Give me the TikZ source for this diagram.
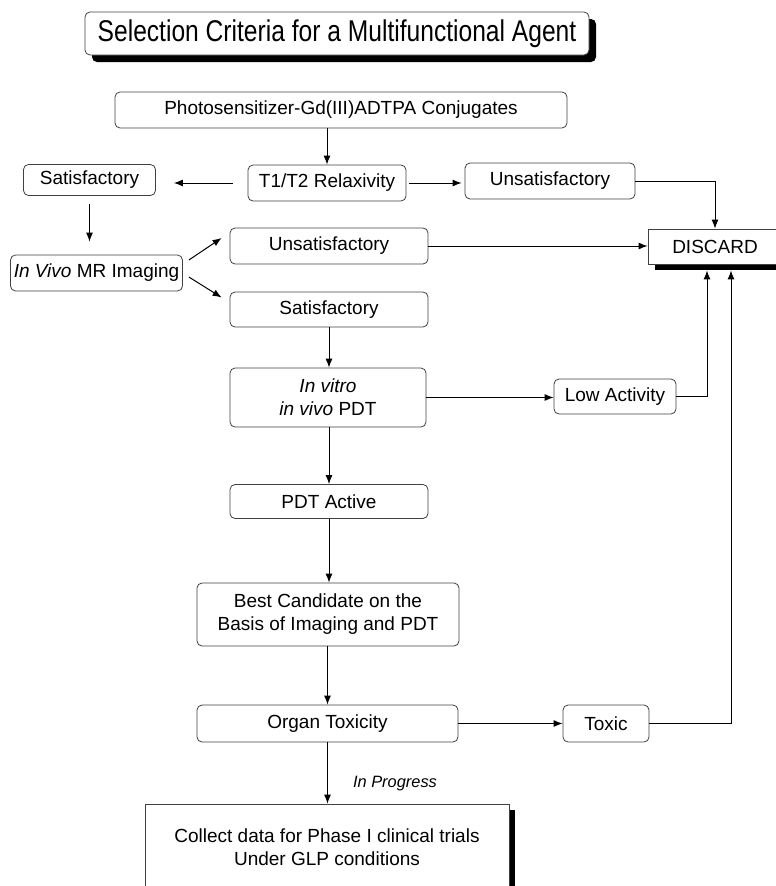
\documentclass[tikz,border=0pt]{standalone}
\usepackage{fontspec}
\setmainfont{Liberation Sans}
\newfontfamily\titlefont{Liberation Sans}[FakeStretch=0.82]
\usepackage{tikz}
\usetikzlibrary{arrows.meta,calc,positioning,shadows}
\tikzstyle{stage} = [draw=black!75, line width=0.8pt, fill=white,
    rectangle, rounded corners=5pt, inner sep=0pt, align=center,
    font=\fontsize{19}{23}\selectfont]
\tikzstyle{heading} = [stage, font=\titlefont\fontsize{30}{36}\selectfont,
    drop shadow={shadow xshift=7pt, shadow yshift=-7pt, fill=black, opacity=1}]
\tikzstyle{endbox} = [stage, rounded corners=0pt]
\tikzstyle{flow} = [-{Latex[length=9pt,width=7pt]}, line width=1pt]
\tikzstyle{note} = [font=\fontsize{16.4}{20}\selectfont\itshape]

\begin{document}
\begin{tikzpicture}[x=1pt,y=-1pt]
\useasboundingbox (0,0) rectangle (776,886);
\node [heading, minimum width=504pt, minimum height=43pt] (title) at (337,33.5)
    {Selection Criteria for a Multifunctional Agent};
\node [stage, minimum width=452pt, minimum height=36pt] (conj) at (341,110)
    {Photosensitizer-Gd(III)ADTPA Conjugates};
\node [stage, minimum width=158pt, minimum height=36pt] (relax) at (327,183)
    {T1/T2 Relaxivity};
\node [stage, minimum width=132pt, minimum height=31pt] (satl) at (89.5,180)
    {Satisfactory};
\node [stage, minimum width=170pt, minimum height=36pt] (unsatt) at (550,181)
    {Unsatisfactory};
\node [endbox, minimum width=134pt, minimum height=35pt,
    drop shadow={shadow xshift=7pt, shadow yshift=-6pt, fill=black, opacity=1}]
    (discard) at (715,246.5) {DISCARD};
\node [stage, minimum width=172pt, minimum height=36pt] (mri) at (96.5,273)
    {\textit{In Vivo} MR Imaging};
\node [stage, minimum width=198pt, minimum height=36pt] (unsatm) at (329,246)
    {Unsatisfactory};
\node [stage, minimum width=198pt, minimum height=35pt] (satm) at (329,309.5)
    {Satisfactory};
\node [stage, minimum width=196pt, minimum height=59pt] (pdt) at (328,397.5)
    {\textit{In vitro}\\\textit{in vivo} PDT};
\node [stage, minimum width=122pt, minimum height=35pt] (lowact) at (615,396.5)
    {Low Activity};
\node [stage, minimum width=198pt, minimum height=34pt] (active) at (329,501.5)
    {PDT Active};
\node [stage, minimum width=262pt, minimum height=63pt] (best) at (328,614.5)
    {Best Candidate on the\\Basis of Imaging and PDT};
\node [stage, minimum width=261pt, minimum height=37pt] (organ) at (327.5,723.5)
    {Organ Toxicity};
\node [stage, minimum width=86pt, minimum height=37pt] (toxic) at (606,723.5)
    {Toxic};
\node [endbox, minimum width=364pt, minimum height=86pt,
    drop shadow={shadow xshift=6pt, shadow yshift=-6pt, fill=black, opacity=1}]
    (collect) at (327,847) {Collect data for Phase I clinical trials\\Under GLP conditions};
\node [note] (progress) at (395,784) {In Progress};

% relaxivity screen
\draw [flow] (conj.south -| relax.north) -- (relax.north);
\draw [flow, shorten <=15pt, shorten >=18pt] (relax.west) -- (satl.east |- relax.west);
\draw [flow, shorten <=3pt, shorten >=3pt] (relax.east) -- (unsatt.west |- relax.east);
\draw [flow] (unsatt.east) -| (discard.north);
% imaging
\draw [flow, shorten <=8pt, shorten >=13pt] (satl.south) -- (satl.south |- mri.north);
\draw [flow] ($(mri.east)+(6,-13)$) -- ($(unsatm.west)+(-8,-8)$);
\draw [flow] ($(mri.east)+(6,4)$) -- ($(satm.west)+(-8,-12)$);
\draw [flow] (unsatm.east) -- (discard.west |- unsatm.east);
\draw [flow] (satm.south) -- (pdt.north -| satm.south);
% PDT
\draw [flow] (pdt.east) -- (lowact.west |- pdt.east);
\draw [flow] (lowact.east) -| ($(discard.south)+(-8,6)$);
\draw [flow] (pdt.south -| active.north) -- (active.north);
\draw [flow] (active.south) -- (best.north -| active.south);
\draw [flow] (best.south -| organ.north) -- (organ.north);
% toxicity
\draw [flow] (organ.east) -- (toxic.west);
\draw [flow] (toxic.east) -| ($(discard.south)+(16,6)$);
\draw [flow] (organ.south) -- (collect.north -| organ.south);
\end{tikzpicture}
\end{document}
